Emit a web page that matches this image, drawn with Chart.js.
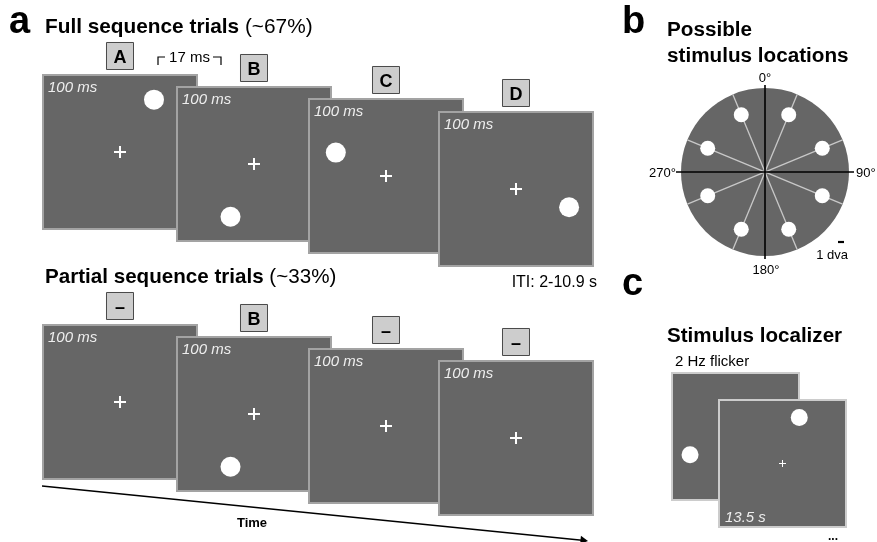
<!DOCTYPE html>
<html>
<head>
<meta charset="utf-8">
<script src="https://cdn.jsdelivr.net/npm/chart.js@4/dist/chart.umd.min.js"></script>
<style>
html,body{margin:0;padding:0;background:#ffffff;}
#wrap{width:877px;height:542px;}
canvas{display:block;}
</style>
</head>
<body>
<div id="wrap"><canvas id="c" width="877" height="542"></canvas></div>
<script>
// ================= DATA =================
const fullSeqLabels = ['A', 'B', 'C', 'D'];
const partialSeqLabels = ['\u2013', 'B', '\u2013', '\u2013'];
const frameDurationLabel = '100 ms';
// stimulus angle in each frame (deg, clockwise from top) and eccentricity (fraction of frame size)
const fullStimAngles = [33, 204, 295, 109];
const fullStimEcc = [0.40, 0.37, 0.355, 0.36];
const partialStimAngles = [null, 204, null, null];
const partialStimEcc = [null, 0.37, null, null];
// possible stimulus locations (panel b)
const locationAngles = [22.5, 67.5, 112.5, 157.5, 202.5, 247.5, 292.5, 337.5];
const compassLabels = ['0°', '90°', '180°', '270°'];
// localizer (panel c)
const localizerAngles = [248, 20];
const localizerEcc = [0.38, 0.38];
const itiLabel = 'ITI: 2-10.9 s';
const isiLabel = '17 ms';
const localizerDuration = '13.5 s';
const flickerLabel = '2 Hz flicker';

// ================= LAYOUT =================
const LAYOUT = {
  frameSize: 156,
  fullLeft: [42, 176, 308, 438],
  fullTop: [74, 86, 98, 111],
  partialTop: [324, 336, 348, 360],
  boxOffset: 18,
  disk: {cx: 765, cy: 172, r: 84, ecc: 62},
  loc: {left: [671, 718], top: [372, 399], size: 129}
};
const FONT = 'Liberation Sans, Arial, Helvetica, sans-serif';

function stimPos(left, top, size, ang, ecc) {
  const a = ang * Math.PI / 180;
  const cx = left + size / 2, cy = top + size / 2;
  return {x: cx + ecc * size * Math.sin(a), y: cy - ecc * size * Math.cos(a)};
}

const S = LAYOUT.frameSize;
const stimPoints = [];
const crossPoints = [];
const boxPoints = [];
for (let i = 0; i < 4; i++) {
  const L = LAYOUT.fullLeft[i];
  [[LAYOUT.fullTop[i], fullStimAngles[i], fullStimEcc[i]],
   [LAYOUT.partialTop[i], partialStimAngles[i], partialStimEcc[i]]].forEach(([T, ang, ecc]) => {
    if (ang !== null) stimPoints.push(stimPos(L, T, S, ang, ecc));
    crossPoints.push({x: L + S / 2, y: T + S / 2});
    boxPoints.push({x: L + S / 2, y: T - LAYOUT.boxOffset});
  });
}
const D = LAYOUT.disk;
const diskDots = locationAngles.map(a => ({
  x: D.cx + D.ecc * Math.sin(a * Math.PI / 180),
  y: D.cy - D.ecc * Math.cos(a * Math.PI / 180)
}));
const locDots = localizerAngles.map((a, i) => stimPos(LAYOUT.loc.left[i], LAYOUT.loc.top[i], LAYOUT.loc.size, a, localizerEcc[i]));

const datasets = [];
// disk
datasets.push({data: [{x: D.cx, y: D.cy}], pointRadius: D.r, backgroundColor: '#666666', borderWidth: 0, order: 30});
// spokes (diameters)
for (let i = 0; i < 4; i++) {
  const a = locationAngles[i] * Math.PI / 180;
  datasets.push({
    data: [{x: D.cx + D.r * Math.sin(a), y: D.cy - D.r * Math.cos(a)}, {x: D.cx - D.r * Math.sin(a), y: D.cy + D.r * Math.cos(a)}],
    showLine: true, borderColor: '#c8c8c8', borderWidth: 1.3, pointRadius: 0, order: 29
  });
}
// black axes of the disk
datasets.push({data: [{x: D.cx, y: D.cy - D.r - 3}, {x: D.cx, y: D.cy + D.r + 3}], showLine: true, borderColor: '#000', borderWidth: 1.6, pointRadius: 0, order: 28});
datasets.push({data: [{x: D.cx - D.r - 5, y: D.cy}, {x: D.cx + D.r + 5, y: D.cy}], showLine: true, borderColor: '#000', borderWidth: 1.6, pointRadius: 0, order: 28});
// scale bar 1 dva
datasets.push({data: [{x: 838, y: 242}, {x: 844, y: 242}], showLine: true, borderColor: '#000', borderWidth: 2.2, pointRadius: 0, order: 27});
// disk dots
datasets.push({data: diskDots, pointRadius: 7.5, backgroundColor: '#ffffff', borderWidth: 0, order: 5});
// frame stimuli
datasets.push({data: stimPoints, pointRadius: 10, backgroundColor: '#ffffff', borderWidth: 0, order: 5});
// fixation crosses
datasets.push({data: crossPoints, pointStyle: 'cross', pointRadius: 6, borderColor: '#ffffff', borderWidth: 2, order: 5});
// label boxes
datasets.push({data: boxPoints, pointStyle: 'rect', pointRadius: 19.1, backgroundColor: '#cdcdcd', borderColor: '#4a4a4a', borderWidth: 1, order: 5});
// localizer stimuli + small cross
datasets.push({data: locDots, pointRadius: 8.5, backgroundColor: '#ffffff', borderWidth: 0, order: 5});
datasets.push({data: [{x: LAYOUT.loc.left[1] + LAYOUT.loc.size / 2, y: LAYOUT.loc.top[1] + LAYOUT.loc.size / 2}], pointStyle: 'cross', pointRadius: 3.5, borderColor: '#ffffff', borderWidth: 1, order: 5});
// 17 ms bracket
datasets.push({data: [{x: 158, y: 65}, {x: 158, y: 57}, {x: 165, y: 57}, {x: 189, y: null}, {x: 213, y: 57}, {x: 221, y: 57}, {x: 221, y: 65}],
  showLine: true, spanGaps: false, borderColor: '#000', borderWidth: 1.2, pointRadius: 0, order: 5});
// time arrow
datasets.push({data: [{x: 42, y: 486}, {x: 582, y: 540.3}], showLine: true, borderColor: '#000', borderWidth: 1.4, pointRadius: 0, order: 5});
datasets.push({data: [{x: 583, y: 540.4}], pointStyle: 'triangle', pointRadius: 5, rotation: 95.7, backgroundColor: '#000', borderWidth: 0, order: 4});

// ================= PLUGIN =================
function txt(ctx, s, x, y, font, color, align) {
  ctx.font = font; ctx.fillStyle = color; ctx.textAlign = align || 'left'; ctx.textBaseline = 'alphabetic';
  ctx.fillText(s, x, y);
}
function mixed(ctx, parts, x, y) {
  let cx = x;
  parts.forEach(([s, font]) => { ctx.font = font; ctx.fillStyle = '#000'; ctx.textAlign = 'left'; ctx.fillText(s, cx, y); cx += ctx.measureText(s).width; });
}
const framePlugin = {
  id: 'frames',
  beforeDatasetsDraw(chart) {
    const ctx = chart.ctx, X = v => chart.scales.x.getPixelForValue(v), Y = v => chart.scales.y.getPixelForValue(v);
    ctx.save();
    const drawFrame = (l, t, s, border) => {
      const x0 = X(l), y0 = Y(t), w = X(l + s) - x0, h = Y(t + s) - y0;
      ctx.fillStyle = '#666666'; ctx.fillRect(x0, y0, w, h);
      ctx.strokeStyle = border; ctx.lineWidth = 2; ctx.strokeRect(x0 + 1, y0 + 1, w - 2, h - 2);
    };
    for (let i = 0; i < 4; i++) drawFrame(LAYOUT.fullLeft[i], LAYOUT.fullTop[i], S, '#a3a3a3');
    for (let i = 0; i < 4; i++) drawFrame(LAYOUT.fullLeft[i], LAYOUT.partialTop[i], S, '#a3a3a3');
    for (let i = 0; i < 2; i++) drawFrame(LAYOUT.loc.left[i], LAYOUT.loc.top[i], LAYOUT.loc.size, '#cccccc');
    ctx.restore();
  },
  afterDatasetsDraw(chart) {
    const ctx = chart.ctx, X = v => chart.scales.x.getPixelForValue(v), Y = v => chart.scales.y.getPixelForValue(v);
    ctx.save();
    // panel letters
    txt(ctx, 'a', X(9), Y(33), 'bold 38px ' + FONT, '#000');
    txt(ctx, 'b', X(622), Y(33), 'bold 38px ' + FONT, '#000');
    txt(ctx, 'c', X(622), Y(295), 'bold 38px ' + FONT, '#000');
    // section titles
    mixed(ctx, [['Full sequence trials', 'bold 20.8px ' + FONT], [' (~67%)', '20.8px ' + FONT]], X(45), Y(33));
    mixed(ctx, [['Partial sequence trials', 'bold 20.6px ' + FONT], [' (~33%)', '20.6px ' + FONT]], X(45), Y(283));
    txt(ctx, 'Possible', X(667), Y(36), 'bold 20.7px ' + FONT, '#000');
    txt(ctx, 'stimulus locations', X(667), Y(62), 'bold 20.7px ' + FONT, '#000');
    txt(ctx, 'Stimulus localizer', X(667), Y(342), 'bold 20.6px ' + FONT, '#000');
    // box labels
    for (let i = 0; i < 4; i++) {
      const cx = LAYOUT.fullLeft[i] + S / 2;
      txt(ctx, fullSeqLabels[i], X(cx), Y(LAYOUT.fullTop[i] - LAYOUT.boxOffset + 6.5), 'bold 18px ' + FONT, '#000', 'center');
      txt(ctx, partialSeqLabels[i], X(cx), Y(LAYOUT.partialTop[i] - LAYOUT.boxOffset + 6.5), 'bold 18px ' + FONT, '#000', 'center');
      // durations
      txt(ctx, frameDurationLabel, X(LAYOUT.fullLeft[i] + 6), Y(LAYOUT.fullTop[i] + 18), 'italic 15px ' + FONT, '#eeeeee');
      txt(ctx, frameDurationLabel, X(LAYOUT.fullLeft[i] + 6), Y(LAYOUT.partialTop[i] + 18), 'italic 15px ' + FONT, '#eeeeee');
    }
    txt(ctx, isiLabel, X(189.5), Y(62), '15px ' + FONT, '#000', 'center');
    txt(ctx, itiLabel, X(597), Y(287), '16px ' + FONT, '#000', 'right');
    txt(ctx, 'Time', X(252), Y(527), 'bold 13px ' + FONT, '#000', 'center');
    // compass labels
    txt(ctx, compassLabels[0], X(765), Y(82), '13px ' + FONT, '#000', 'center');
    txt(ctx, compassLabels[1], X(856), Y(177), '13px ' + FONT, '#000', 'left');
    txt(ctx, compassLabels[2], X(766), Y(274), '13px ' + FONT, '#000', 'center');
    txt(ctx, compassLabels[3], X(676), Y(177), '13px ' + FONT, '#000', 'right');
    txt(ctx, '1 dva', X(848), Y(259), '13px ' + FONT, '#000', 'right');
    // localizer texts
    txt(ctx, flickerLabel, X(675), Y(366), '15px ' + FONT, '#000');
    txt(ctx, localizerDuration, X(725), Y(522), 'italic 15px ' + FONT, '#eeeeee');
    txt(ctx, '...', X(833), Y(540), 'bold 12px ' + FONT, '#000', 'center');
    ctx.restore();
  }
};

new Chart(document.getElementById('c'), {
  type: 'scatter',
  data: {datasets: datasets},
  options: {
    responsive: false,
    animation: false,
    events: [],
    layout: {padding: 0, autoPadding: false},
    plugins: {legend: {display: false}, tooltip: {enabled: false}, title: {display: false}},
    scales: {
      x: {type: 'linear', min: 0, max: 877, display: false},
      y: {type: 'linear', min: 0, max: 542, reverse: true, display: false}
    },
    elements: {point: {hoverRadius: 0}}
  },
  plugins: [framePlugin]
});
</script>
</body>
</html>
